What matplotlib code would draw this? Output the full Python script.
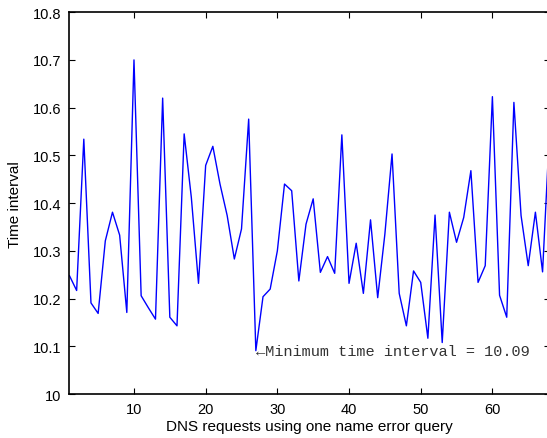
import matplotlib
matplotlib.use("Agg")
import matplotlib.pyplot as plt
from matplotlib.ticker import FuncFormatter

# time interval per DNS request
requests = list(range(1, 69))
intervals = [
    10.248, 10.217, 10.534, 10.191, 10.169, 10.321, 10.381, 10.333, 10.171, 10.700,
    10.206, 10.181, 10.157, 10.620, 10.161, 10.143, 10.545, 10.412, 10.232, 10.479,
    10.519, 10.440, 10.374, 10.283, 10.346, 10.576, 10.091, 10.204, 10.220, 10.300,
    10.440, 10.426, 10.237, 10.356, 10.409, 10.255, 10.288, 10.253, 10.543, 10.232,
    10.316, 10.211, 10.365, 10.202, 10.335, 10.503, 10.211, 10.143, 10.258, 10.234,
    10.117, 10.375, 10.108, 10.381, 10.318, 10.370, 10.468, 10.234, 10.269, 10.623,
    10.207, 10.161, 10.611, 10.374, 10.269, 10.381, 10.256, 10.560,
]
min_x, min_y = 27, 10.09
xticks = [10, 20, 30, 40, 50, 60]
yticks = [10.0, 10.1, 10.2, 10.3, 10.4, 10.5, 10.6, 10.7, 10.8]

plt.rcParams["font.family"] = ["Liberation Sans", "DejaVu Sans"]

fig = plt.figure(figsize=(5.47, 4.39), dpi=100)
ax = fig.add_axes([0.127, 0.100, 0.878, 0.870])

ax.plot(requests, intervals, color="#0000ff", lw=1.0)

ax.set_xlim(1, 68)
ax.set_ylim(10.0, 10.8)
ax.set_xticks(xticks)
ax.set_yticks(yticks)
ax.yaxis.set_major_formatter(FuncFormatter(lambda v, p: f"{v:g}"))
ax.tick_params(direction="in", top=True, right=True, length=4, width=0.8,
               labelsize=10.5, pad=6)
for s in ax.spines.values():
    s.set_linewidth(1.2)

ax.set_xlabel("DNS requests using one name error query", fontsize=11, labelpad=2)
ax.set_ylabel("Time interval", fontsize=11, labelpad=8)

ax.text(min_x, min_y, "\u2190Minimum time interval = 10.09", ha="left", va="center",
        fontsize=11, color="#333333", family=["Liberation Mono", "DejaVu Sans Mono"])

fig.savefig("out.png", dpi=100)
